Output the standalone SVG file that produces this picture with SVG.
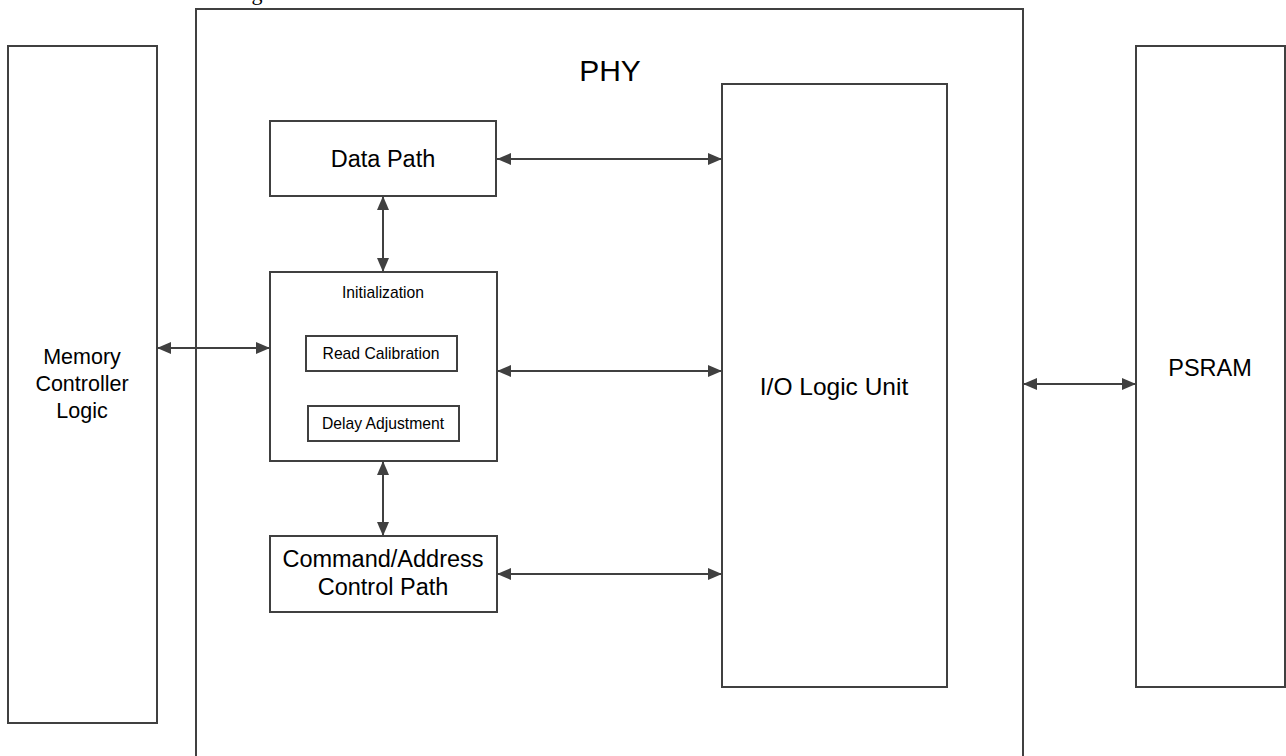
<svg xmlns="http://www.w3.org/2000/svg" width="1286" height="756" viewBox="0 0 1286 756">
<style>
.box{fill:#fff;stroke:#404040;stroke-width:2}
.conn{stroke:#404040;stroke-width:2;fill:none;marker-start:url(#ah);marker-end:url(#ah)}
text{font-family:Arial,"Liberation Sans",sans-serif;fill:#000;text-anchor:middle}
.t24{font-size:23.5px}
.t22{font-size:21.5px}
.t16{font-size:15.7px}
</style>
<defs>
<marker id="ah" viewBox="0 0 14 12" refX="14" refY="6" markerWidth="14" markerHeight="12" markerUnits="userSpaceOnUse" orient="auto-start-reverse">
<path d="M0,0 L14,6 L0,12 Z" fill="#404040"/>
</marker>
</defs>
<rect width="1286" height="756" fill="#fff"/>
<text x="257" y="0" style="font-family:'Liberation Serif',serif;font-size:22px">g</text>
<g id="mcl">
<rect class="box" x="8" y="46" width="149" height="677"/>
<text class="t22" x="82" y="364">Memory</text>
<text class="t22" x="82" y="391">Controller</text>
<text class="t22" x="82" y="418">Logic</text>
</g>
<g id="phy">
<rect class="box" x="196" y="9" width="827" height="760"/>
<text x="610" y="81" style="font-size:30px">PHY</text>
</g>
<g id="psram">
<rect class="box" x="1136" y="46" width="149" height="641"/>
<text class="t24" x="1210" y="376">PSRAM</text>
</g>
<g id="io">
<rect class="box" x="722" y="84" width="225" height="603"/>
<text class="t24" x="834" y="395" style="font-size:24.5px">I/O Logic Unit</text>
</g>
<g id="datapath">
<rect class="box" x="270" y="121" width="226" height="75"/>
<text class="t24" x="383" y="167">Data Path</text>
</g>
<g id="init">
<rect class="box" x="270" y="272" width="227" height="189"/>
<text class="t16" x="383" y="298">Initialization</text>
</g>
<g id="readcal">
<rect class="box" x="306" y="336" width="151" height="35"/>
<text class="t16" x="381" y="359">Read Calibration</text>
</g>
<g id="delay">
<rect class="box" x="308" y="406" width="151" height="35"/>
<text class="t16" x="383" y="429">Delay Adjustment</text>
</g>
<g id="cmd">
<rect class="box" x="270" y="536" width="227" height="76"/>
<text class="t24" x="383" y="567">Command/Address</text>
<text class="t24" x="383" y="595">Control Path</text>
</g>
<g id="connectors">
<line class="conn" x1="497" y1="159" x2="722" y2="159"/>
<line class="conn" x1="383" y1="196" x2="383" y2="272"/>
<line class="conn" x1="157" y1="348" x2="270" y2="348"/>
<line class="conn" x1="497" y1="371" x2="722" y2="371"/>
<line class="conn" x1="383" y1="461" x2="383" y2="536"/>
<line class="conn" x1="497" y1="574" x2="722" y2="574"/>
<line class="conn" x1="1023" y1="384" x2="1136" y2="384"/>
</g>
</svg>
